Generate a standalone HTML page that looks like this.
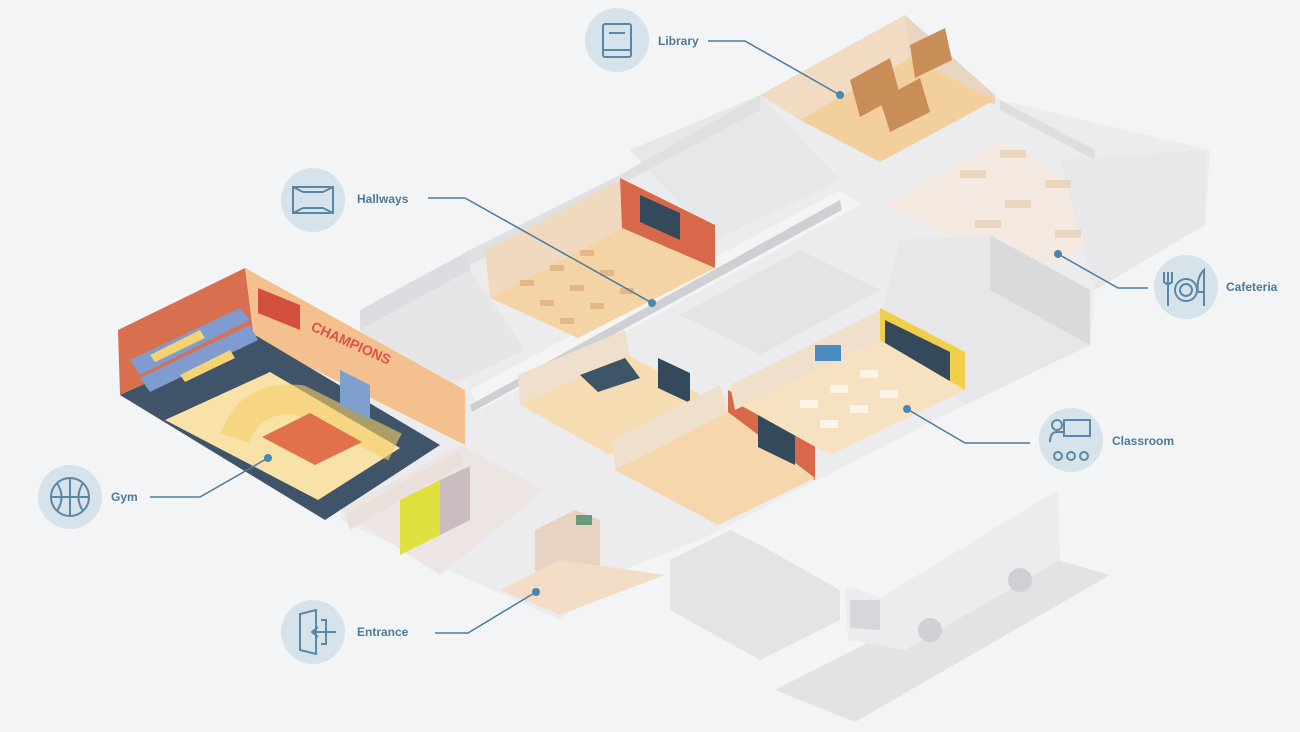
<!DOCTYPE html>
<html><head><meta charset="utf-8"><style>
html,body{margin:0;padding:0;background:#f3f4f6;}
svg{display:block}
text{font-family:"Liberation Sans",sans-serif;font-weight:bold;font-size:12px;fill:#4d7a98}
</style></head><body>
<svg width="1300" height="732" viewBox="0 0 1300 732" xmlns="http://www.w3.org/2000/svg">
<rect width="1300" height="732" fill="#f3f4f6"/>
<!-- building base -->
<polygon points="360,330 760,95 905,15 1000,100 1210,150 1205,225 1095,290 1090,345 965,405 700,540 610,575 560,620 470,580 340,520" fill="#ececee"/>
<!-- upper gray rooms -->
<polygon points="360,330 470,270 525,350 430,395" fill="#e6e6e8"/>
<polygon points="630,150 760,95 840,180 715,240" fill="#e6e7e9"/>
<polygon points="360,330 470,270 470,250 360,310" fill="#dcdde0"/>
<polygon points="470,250 620,175 760,95 760,110 470,265" fill="#dfe0e2"/>
<!-- hallway band -->
<polygon points="470,390 840,190 860,205 480,410" fill="#f4f4f5"/>
<polygon points="470,405 840,200 842,210 472,412" fill="#cfd0d3"/>
<!-- classroom upper -->
<polygon points="485,250 620,180 622,228 490,298" fill="#f0d9bf"/>
<polygon points="620,178 715,225 715,268 622,228" fill="#d9684a"/>
<polygon points="490,298 622,228 715,268 578,338" fill="#f4d4a5"/>
<g fill="#e4b886"><rect x="520" y="280" width="14" height="6"/><rect x="550" y="265" width="14" height="6"/><rect x="580" y="250" width="14" height="6"/><rect x="540" y="300" width="14" height="6"/><rect x="570" y="285" width="14" height="6"/><rect x="600" y="270" width="14" height="6"/><rect x="560" y="318" width="14" height="6"/><rect x="590" y="303" width="14" height="6"/><rect x="620" y="288" width="14" height="6"/></g>
<polygon points="640,195 680,213 680,240 640,222" fill="#34495b"/>
<!-- library -->
<polygon points="760,95 905,15 910,60 800,120" fill="#f1dcc3"/>
<polygon points="905,15 995,95 995,105 910,60" fill="#e9d6c0"/>
<polygon points="800,120 910,58 995,100 880,162" fill="#f2cf9d"/>
<g fill="#c98d58"><polygon points="850,80 890,58 900,95 860,117"/><polygon points="880,100 920,78 930,112 890,132"/><polygon points="910,45 945,28 952,60 915,78"/></g>
<!-- cafeteria -->
<polygon points="885,205 1000,140 1140,220 1030,275" fill="#f3e9e1"/>
<polygon points="1000,100 1095,150 1095,160 1000,110" fill="#dedee1"/>
<polygon points="1060,160 1205,150 1205,225 1095,290" fill="#e8e8ea"/>
<g fill="#ead6bf"><rect x="960" y="170" width="26" height="8"/><rect x="1000" y="150" width="26" height="8"/><rect x="1005" y="200" width="26" height="8"/><rect x="1045" y="180" width="26" height="8"/><rect x="1055" y="230" width="26" height="8"/><rect x="975" y="220" width="26" height="8"/></g>
<!-- middle gray rooms -->
<polygon points="680,315 800,250 880,290 760,355" fill="#e3e4e6"/>
<polygon points="900,240 990,235 1090,295 1090,345 965,405 880,320" fill="#e7e7e9"/>
<polygon points="990,235 1090,290 1090,345 990,290" fill="#dadadd"/>
<!-- music room -->
<polygon points="518,375 625,330 630,355 520,405" fill="#efe0cd"/>
<polygon points="520,405 628,355 710,400 610,455" fill="#f5dcb2"/>
<polygon points="580,375 625,358 640,378 598,392" fill="#3e5467"/>
<polygon points="658,358 690,373 690,403 658,388" fill="#34495b"/>
<!-- art room -->
<polygon points="612,440 720,385 728,412 615,470" fill="#efe0cd"/>
<polygon points="728,390 815,435 815,480 728,440" fill="#d9684a"/>
<polygon points="615,470 728,412 815,478 718,525" fill="#f5d7ab"/>
<polygon points="758,415 795,433 795,465 758,447" fill="#34495b"/>
<!-- classroom right -->
<polygon points="730,385 880,310 880,340 735,410" fill="#efe0cd"/>
<polygon points="880,308 965,352 965,390 880,345" fill="#f0cf4a"/>
<polygon points="885,320 950,352 950,382 885,350" fill="#34495b"/>
<polygon points="740,405 880,340 965,390 830,455" fill="#f6e2c0"/>
<g fill="#faf4ea"><rect x="800" y="400" width="18" height="8"/><rect x="830" y="385" width="18" height="8"/><rect x="860" y="370" width="18" height="8"/><rect x="820" y="420" width="18" height="8"/><rect x="850" y="405" width="18" height="8"/><rect x="880" y="390" width="18" height="8"/></g>
<rect x="815" y="345" width="26" height="16" fill="#4a8cc0"/>
<!-- gym -->
<polygon points="118,330 245,268 255,345 120,395" fill="#d8704f"/>
<polygon points="245,268 465,390 465,445 255,340" fill="#f4c08d"/>
<polygon points="120,395 255,335 440,445 325,520" fill="#3f5468"/>
<polygon points="165,420 270,372 400,448 318,500" fill="#f8e2a8"/>
<path d="M235,438 Q250,395 300,400 L395,447" fill="none" stroke="#f5cf6a" stroke-width="30" opacity=".6"/>
<polygon points="262,437 310,413 362,442 315,465" fill="#e0714a"/>
<g fill="#7f9bcf"><polygon points="130,360 240,308 250,320 140,375"/><polygon points="140,378 250,325 258,340 150,392"/></g>
<g fill="#f3d373"><polygon points="150,355 200,330 205,338 155,362"/><polygon points="180,375 230,350 235,358 185,382"/></g>
<polygon points="258,288 300,305 300,330 258,313" fill="#d34f3d"/>
<text x="310" y="330" style="fill:#d9544a;font-size:14px" transform="rotate(24 310 330)">CHAMPIONS</text>
<polygon points="340,370 370,385 370,420 340,405" fill="#7fa0cf"/>
<!-- locker room -->
<polygon points="340,510 460,445 545,490 440,575" fill="#ede5e4"/>
<polygon points="345,515 460,450 462,465 350,530" fill="#e9e0dc"/>
<polygon points="400,500 440,480 440,535 400,555" fill="#dfe03e"/>
<polygon points="440,480 470,466 470,520 440,535" fill="#cbbcbf"/>
<!-- entrance -->
<polygon points="535,530 575,510 600,520 600,565 560,585 535,570" fill="#e8d2c2"/>
<polygon points="500,590 560,560 665,575 560,615" fill="#f3ddc6"/>
<rect x="576" y="515" width="16" height="10" fill="#6a9a78"/>
<!-- bottom gray building -->
<polygon points="670,560 730,530 760,545 840,590 840,620 760,660 670,610" fill="#e3e4e6"/>
<!-- bus pad -->
<polygon points="775,690 1040,555 1110,575 855,722" fill="#e2e3e5"/>
<polygon points="845,590 1030,480 1058,490 1060,560 905,650 848,640" fill="#ececee"/>
<polygon points="848,585 1030,478 1058,490 880,598" fill="#f4f4f5"/>
<polygon points="850,600 880,600 880,630 850,628" fill="#d6d7da"/>
<circle cx="930" cy="630" r="12" fill="#cfd0d3"/><circle cx="1020" cy="580" r="12" fill="#cfd0d3"/>
<!-- icons -->
<g fill="#d7e3ea"><circle cx="617" cy="40" r="32"/><circle cx="313" cy="200" r="32"/><circle cx="70" cy="497" r="32"/><circle cx="313" cy="632" r="32"/><circle cx="1186" cy="287" r="32"/><circle cx="1071" cy="440" r="32"/></g>
<g fill="none" stroke="#5b87a6" stroke-width="2">
<rect x="603" y="24" width="28" height="33" rx="2"/><line x1="609" y1="33" x2="625" y2="33"/><line x1="603" y1="50" x2="631" y2="50"/>
<rect x="293" y="187" width="40" height="26"/><line x1="303" y1="192" x2="323" y2="192"/><line x1="303" y1="208" x2="323" y2="208"/><line x1="293" y1="187" x2="303" y2="192"/><line x1="333" y1="187" x2="323" y2="192"/><line x1="293" y1="213" x2="303" y2="208"/><line x1="333" y1="213" x2="323" y2="208"/>
<circle cx="70" cy="497" r="19"/><line x1="51" y1="497" x2="89" y2="497"/><line x1="70" y1="478" x2="70" y2="516"/><path d="M57,483 Q66,497 57,511 M83,483 Q74,497 83,511"/>
<path d="M300,614 L316,610 L316,654 L300,650 Z"/><path d="M321,620 L326,620 L326,644 L321,644"/><line x1="312" y1="632" x2="336" y2="632"/><path d="M318,627 L312,632 L318,637"/>
<circle cx="1186" cy="290" r="11"/><circle cx="1186" cy="290" r="6"/><path d="M1168,272 L1168,306 M1164,272 L1164,282 Q1168,286 1172,282 L1172,272"/><path d="M1204,306 L1204,270 Q1196,278 1198,292 L1204,292"/>
<circle cx="1057" cy="425" r="5"/><path d="M1050,442 Q1050,432 1057,432 L1063,432"/><rect x="1064" y="420" width="26" height="16"/><circle cx="1058" cy="456" r="4"/><circle cx="1071" cy="456" r="4"/><circle cx="1084" cy="456" r="4"/>
</g>
<!-- labels -->
<text x="658" y="45">Library</text>
<text x="357" y="203">Hallways</text>
<text x="111" y="501">Gym</text>
<text x="357" y="636">Entrance</text>
<text x="1226" y="291">Cafeteria</text>
<text x="1112" y="445">Classroom</text>
<g fill="none" stroke="#4a7b9e" stroke-width="1.5">
<polyline points="708,41 745,41 840,95"/>
<polyline points="428,198 465,198 652,303"/>
<polyline points="150,497 200,497 268,458"/>
<polyline points="435,633 468,633 536,592"/>
<polyline points="1148,288 1118,288 1058,254"/>
<polyline points="1030,443 965,443 907,409"/>
</g>
<g fill="#4a86b0"><circle cx="840" cy="95" r="4"/><circle cx="652" cy="303" r="4"/><circle cx="268" cy="458" r="4"/><circle cx="536" cy="592" r="4"/><circle cx="1058" cy="254" r="4"/><circle cx="907" cy="409" r="4"/></g>
</svg>
</body></html>
